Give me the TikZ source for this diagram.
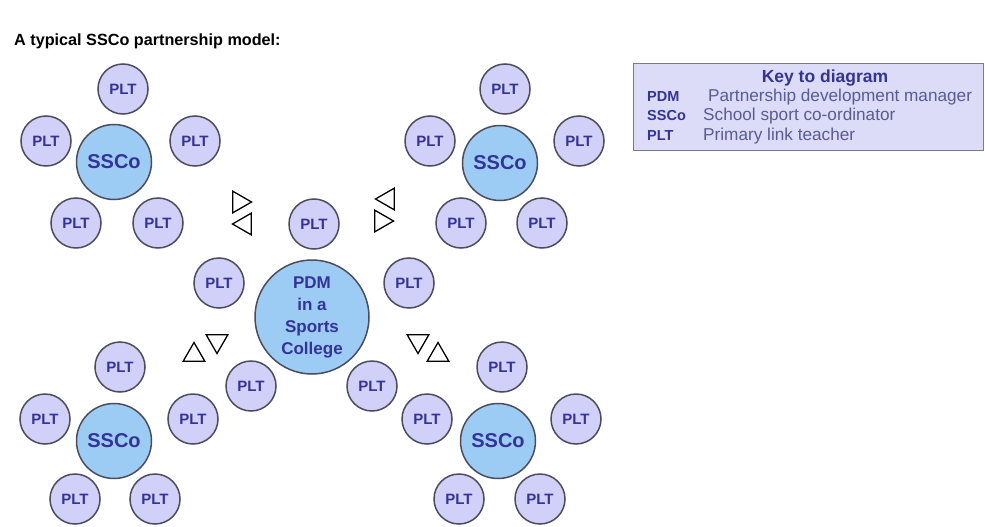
\documentclass[tikz,border=0pt]{standalone}
\usepackage{fontspec}
\setmainfont{Liberation Sans}
\usetikzlibrary{shapes.geometric}
\definecolor{pltfill}{HTML}{D0D0F8}
\definecolor{sscofill}{HTML}{9CCCF4}
\definecolor{txtblue}{HTML}{333399}
\definecolor{descblue}{HTML}{5A5A96}
\definecolor{ringgray}{HTML}{4C4C5C}
\definecolor{keyfill}{HTML}{DCDCF8}
\definecolor{keyline}{HTML}{7C7C84}
\tikzset{
  plt/.style={circle, draw=ringgray, line width=1.5pt, fill=pltfill, minimum size=50pt, inner sep=0pt,
    text=txtblue, font=\bfseries\fontsize{15}{15}\selectfont},
  ssco/.style={circle, draw=ringgray, line width=1.5pt, fill=sscofill, minimum size=75pt, inner sep=0pt,
    text=txtblue, font=\bfseries\fontsize{20}{20}\selectfont},
  pdm/.style={circle, draw=ringgray, line width=1.5pt, fill=sscofill, minimum size=114pt, inner sep=0pt,
    text=txtblue, align=center, font=\bfseries\fontsize{17}{22}\selectfont},
  tri/.style={regular polygon, regular polygon sides=3, draw=black, line width=1.3pt, minimum size=25pt, inner sep=0pt},
  keyabbr/.style={anchor=west, inner sep=0pt, text=txtblue, font=\bfseries\fontsize{14.5}{14.5}\selectfont},
  keydesc/.style={anchor=west, inner sep=0pt, text=descblue, font=\fontsize{17.2}{17.2}\selectfont}
}
\begin{document}
\begin{tikzpicture}[x=1pt,y=-1pt]
\useasboundingbox (0,0) rectangle (985,527);
% title
\node[anchor=west, inner sep=0pt, font=\bfseries\fontsize{16.2}{16.2}\selectfont] (title) at (14,41) {A typical SSCo partnership model:};
% key
\node[draw=keyline, line width=1.2pt, fill=keyfill, minimum width=350pt, minimum height=87pt, anchor=north west, inner sep=0pt] (key) at (633,63) {};
\node[inner sep=0pt, text=txtblue, font=\bfseries\fontsize{17.5}{17.5}\selectfont] (keytitle) at (825,78) {Key to diagram};
\node[keyabbr] (kpdm) at (647,97) {PDM};
\node[keyabbr] (kssco) at (647,116) {SSCo};
\node[keyabbr] (kplt) at (647,136) {PLT};
\node[keydesc] (dpdm) at (708,97) {Partnership development manager};
\node[keydesc] (dssco) at (703,116) {School sport co-ordinator};
\node[keydesc] (dplt) at (703,136) {Primary link teacher};
% top-left cluster
\node[ssco] (s1) at (114,162) {SSCo};
\node[plt] (p1a) at (123,89) {PLT};
\node[plt] (p1b) at (46,141) {PLT};
\node[plt] (p1c) at (195,141) {PLT};
\node[plt] (p1d) at (76,223) {PLT};
\node[plt] (p1e) at (158,223) {PLT};
% top-right cluster
\node[ssco] (s2) at (500,163) {SSCo};
\node[plt] (p2a) at (505,89) {PLT};
\node[plt] (p2b) at (430,141) {PLT};
\node[plt] (p2c) at (579,141) {PLT};
\node[plt] (p2d) at (461,223) {PLT};
\node[plt] (p2e) at (542,223) {PLT};
% bottom-left cluster
\node[ssco] (s3) at (114,441) {SSCo};
\node[plt] (p3a) at (120,367) {PLT};
\node[plt] (p3b) at (45,419) {PLT};
\node[plt] (p3c) at (193,419) {PLT};
\node[plt] (p3d) at (75,499) {PLT};
\node[plt] (p3e) at (155,499) {PLT};
% bottom-right cluster
\node[ssco] (s4) at (498,441) {SSCo};
\node[plt] (p4a) at (502,367) {PLT};
\node[plt] (p4b) at (427,419) {PLT};
\node[plt] (p4c) at (576,419) {PLT};
\node[plt] (p4d) at (459,499) {PLT};
\node[plt] (p4e) at (540,499) {PLT};
% central cluster
\node[pdm] (pdm) at (312,317) {PDM\\in a\\Sports\\College};
\node[plt] (c1) at (314,224) {PLT};
\node[plt] (c2) at (219,283) {PLT};
\node[plt] (c3) at (409,283) {PLT};
\node[plt] (c4) at (251,386) {PLT};
\node[plt] (c5) at (372,386) {PLT};
% triangles
\node[tri, shape border rotate=-90] (t1) at (239,202) {};
\node[tri, shape border rotate=90] (t2) at (245,224) {};
\node[tri, shape border rotate=90] (t3) at (388,199) {};
\node[tri, shape border rotate=-90] (t4) at (381,221) {};
\node[tri] (t5) at (194,355) {};
\node[tri, shape border rotate=180] (t6) at (217,341) {};
\node[tri, shape border rotate=180] (t7) at (418,341) {};
\node[tri] (t8) at (438,355) {};
\end{tikzpicture}
\end{document}
